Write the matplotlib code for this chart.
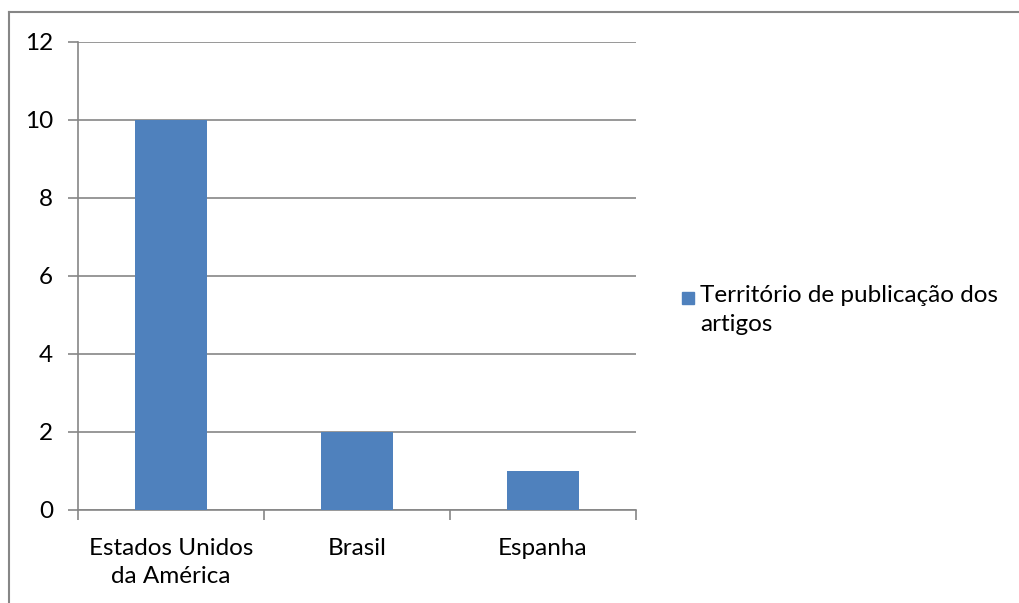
import matplotlib
matplotlib.use("Agg")
import matplotlib.pyplot as plt
from matplotlib.lines import Line2D
from matplotlib.patches import Rectangle

categories = ["Estados Unidos\nda América", "Brasil", "Espanha"]
values = [10, 2, 1]
series_label = "Território de publicação dos\nartigos"
y_ticks = [0, 2, 4, 6, 8, 10, 12]

bar_color = "#4F81BD"
grid_color = "#868686"
font_size = 17.5
plt.rcParams["font.family"] = ["Lato", "DejaVu Sans"]

fig = plt.figure(figsize=(10.19, 6.03), dpi=100)
ax = fig.add_axes([78 / 1019, 93 / 603, 558 / 1019, 468 / 603])

x = list(range(len(categories)))
ax.bar(x, values, width=0.39, color=bar_color, zorder=3)
ax.set_xlim(-0.5, len(categories) - 0.5)
ax.set_ylim(0, 12)
ax.set_yticks(y_ticks)
ax.yaxis.grid(True, color=grid_color, linewidth=1.2, zorder=0)

for side in ["top", "right"]:
    ax.spines[side].set_visible(False)
for side in ["left", "bottom"]:
    ax.spines[side].set_color(grid_color)
    ax.spines[side].set_linewidth(1.2)

ax.set_xticks(x)
ax.set_xticklabels(categories, fontsize=font_size, linespacing=1.45)
ax.tick_params(axis="x", length=0, pad=20)
ax.set_xticks([i + 0.5 for i in range(-1, len(categories))], minor=True)
ax.tick_params(axis="x", which="minor", length=7, width=1.2, color=grid_color)
ax.tick_params(axis="y", length=7, width=1.2, color=grid_color,
               labelsize=font_size, pad=11)

# figure frame (top and left edges visible)
fig.add_artist(Line2D([9 / 1019, 9 / 1019], [0, 1 - 11.5 / 603],
                      transform=fig.transFigure, color=grid_color, linewidth=1.5))
fig.add_artist(Line2D([9 / 1019, 1], [1 - 11.5 / 603, 1 - 11.5 / 603],
                      transform=fig.transFigure, color=grid_color, linewidth=1.5))

# legend
fig.add_artist(Rectangle((682 / 1019, 1 - 304 / 603), 12 / 1019, 12 / 603,
                         transform=fig.transFigure, color=bar_color))
fig.text(700 / 1019, 1 - 285 / 603, series_label, fontsize=font_size,
         va="top", ha="left", linespacing=1.45)

fig.savefig("out.png", dpi=100)
